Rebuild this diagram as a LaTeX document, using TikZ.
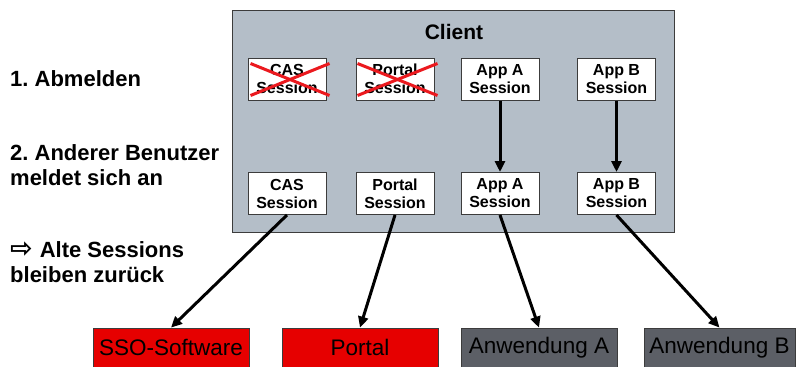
\documentclass[tikz,border=0pt]{standalone}
\usepackage{fontspec}
\setmainfont{Liberation Sans}
\newfontfamily\symfont{DejaVu Sans}
\usetikzlibrary{arrows.meta}
\definecolor{clientbg}{RGB}{180,190,200}
\definecolor{framegray}{RGB}{60,60,60}
\definecolor{sysred}{RGB}{230,0,0}
\definecolor{sysgray}{RGB}{92,95,102}
\definecolor{crossred}{RGB}{235,25,30}
\frenchspacing
\tikzset{
  sessionbox/.style={draw=framegray, line width=1pt, fill=white, minimum width=78pt,
    minimum height=42pt, inner sep=0pt, align=center,
    font=\fontsize{16}{18}\selectfont\bfseries},
  sysbox/.style={draw=framegray, line width=0.8pt, minimum width=156pt, minimum height=39pt,
    inner sep=0pt, font=\fontsize{22.5}{24}\selectfont},
  note/.style={anchor=west, align=left, inner sep=0pt,
    font=\fontsize{22}{25}\selectfont\bfseries},
  flow/.style={line width=3pt, -{Triangle[length=11pt,width=10pt]}},
  strike/.style={draw=crossred, line width=3pt}
}
\begin{document}
\begin{tikzpicture}[x=1pt,y=-1pt]
  \useasboundingbox (0,0) rectangle (796,367);
  % client container
  \draw[draw=framegray, line width=1pt, fill=clientbg] (232,10) rectangle (674,232);
  \node[font=\fontsize{21}{23}\selectfont\bfseries] (client) at (454,32) {Client};

  % sessions of the first user
  \node[sessionbox] (casold)    at (287,79)   {CAS\\Session};
  \node[sessionbox] (portold)   at (395,79)   {Portal\\Session};
  \node[sessionbox] (appaold)   at (500,79)   {App A\\Session};
  \node[sessionbox] (appbold)   at (616.5,79) {App B\\Session};

  % sessions after the new login
  \node[sessionbox] (casnew)    at (287,193.5)   {CAS\\Session};
  \node[sessionbox] (portnew)   at (395,193.5)   {Portal\\Session};
  \node[sessionbox] (appanew)   at (500,193.5)   {App A\\Session};
  \node[sessionbox] (appbnew)   at (616.5,193.5) {App B\\Session};

  % crossed out sessions
  \draw[strike] ([shift={(3pt,-6pt)}]casold.north west) -- ([shift={(3pt,5pt)}]casold.south east);
  \draw[strike] ([shift={(3pt,5pt)}]casold.south west) -- ([shift={(3pt,-6pt)}]casold.north east);
  \draw[strike] ([shift={(2pt,-6pt)}]portold.north west) -- ([shift={(3pt,5pt)}]portold.south east);
  \draw[strike] ([shift={(2pt,5pt)}]portold.south west) -- ([shift={(3pt,-6pt)}]portold.north east);

  % backend systems
  \node[sysbox, fill=sysred]  (sso)    at (171,347.5)   {SSO-Software};
  \node[sysbox, fill=sysred]  (portal) at (360,347.5)   {Portal};
  \node[sysbox, fill=sysgray] (anwa)   at (539,347.5)   {Anwendung A};
  \node[sysbox, fill=sysgray, minimum width=151pt] (anwb) at (719.5,347.5) {Anwendung B};

  % connectors
  \draw[flow] (appaold) -- (appanew);
  \draw[flow] (appbold) -- (appbnew);
  \draw[flow] (casnew.south)  -- (sso.north);
  \draw[flow] (portnew.south) -- (portal.north);
  \draw[flow] (appanew.south) -- (anwa.north);
  \draw[flow] (appbnew.south) -- (anwb.north);

  % steps on the left
  \node[note] (step1) at (10,78.5)  {1. Abmelden};
  \node[note] (step2) at (10,165) {2. Anderer Benutzer\\meldet sich an};
  \node[note] (step3) at (10,262) {{\symfont\fontsize{27}{25}\selectfont\raisebox{-0.5pt}{⇨}}\hspace{7pt}Alte Sessions\\bleiben zurück};
\end{tikzpicture}
\end{document}
